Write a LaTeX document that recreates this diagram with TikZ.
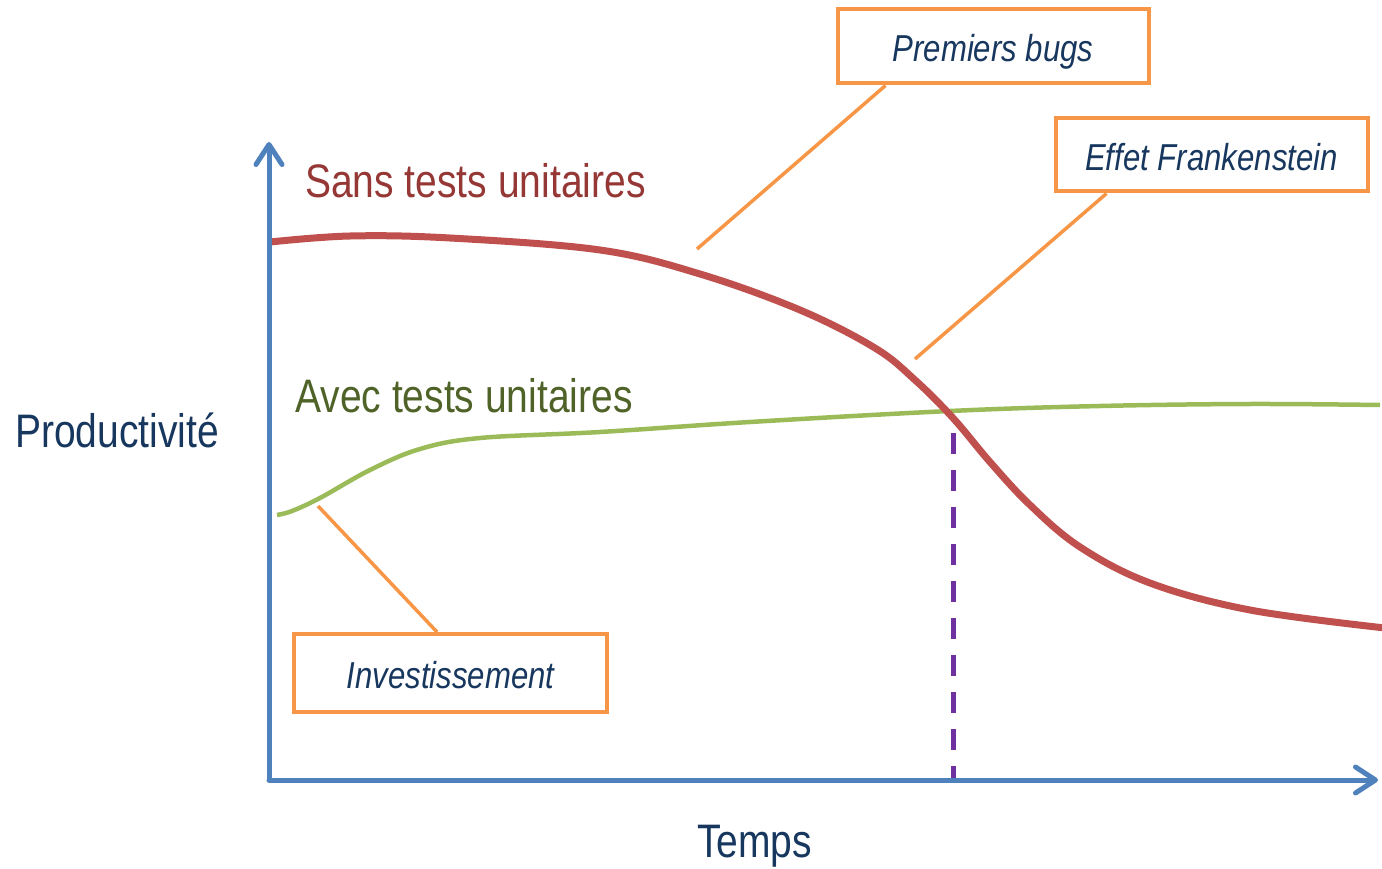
\documentclass[tikz,border=0pt]{standalone}
\usepackage{fontspec}
\setmainfont[FakeStretch=0.83]{Liberation Sans}
\usetikzlibrary{arrows.meta}
\definecolor{axisblue}{HTML}{4F81BD}
\definecolor{curvered}{HTML}{C0504D}
\definecolor{curvegreen}{HTML}{9BBB59}
\definecolor{calloutorange}{HTML}{F79646}
\definecolor{dashpurple}{HTML}{7030A0}
\definecolor{navytext}{HTML}{17375E}
\definecolor{redtext}{HTML}{953735}
\definecolor{greentext}{HTML}{4F6228}
\tikzset{
  axisline/.style={draw=axisblue, line width=5pt, line cap=round, -{Straight Barb[length=20pt,width=26pt,round]}},
  redcurve/.style={draw=curvered, line width=7pt},
  greencurve/.style={draw=curvegreen, line width=4.5pt},
  callout/.style={draw=calloutorange, line width=4pt, fill=white, text=navytext, font=\fontsize{37.5}{40}\selectfont\itshape, inner sep=0pt, text height=31pt, text depth=0pt},
  pointer/.style={draw=calloutorange, line width=3.5pt},
  dashline/.style={draw=dashpurple, line width=5pt, dash pattern=on 21pt off 16pt},
  bigtext/.style={font=\fontsize{47}{50}\selectfont, inner sep=0pt}
}
\begin{document}
\begin{tikzpicture}[x=1pt,y=-1pt]
\useasboundingbox (0,0) rectangle (1382,869);
% axes
\coordinate (origin) at (269,780);
\coordinate (ytop) at (269,142);
\coordinate (xend) at (1378,780);
% dashed line
\coordinate (dtop) at (953,433);
\coordinate (dbot) at (953,780);
\draw[dashline] (dtop) -- (dbot);
% curves
\draw[greencurve] plot[smooth, tension=0.6] coordinates {(277,515) (292,511) (320,498) (370,470) (420,449) (480,438) (600,432) (750,422) (950,411) (1100,406) (1250,404) (1380,405)};
\draw[redcurve] plot[smooth, tension=0.6] coordinates {(270,242) (350,236) (450,238) (600,250) (700,274) (800,310) (875,348) (915,380) (953,418) (990,462) (1030,505) (1080,547) (1150,583) (1250,610) (1385,628)};
\draw[axisline] (origin) -- (ytop);
\draw[axisline] (origin) -- (xend);
% labels
\node[bigtext, text=redtext, anchor=base west] (sans) at (305,198) {Sans tests unitaires};
\node[bigtext, text=greentext, anchor=base west] (avec) at (295,412) {Avec tests unitaires};
\node[bigtext, text=navytext, anchor=base west] (prod) at (15,447) {Productivité};
\node[bigtext, text=navytext, anchor=base] (temps) at (754.5,857) {Temps};
% callouts
\node[callout, minimum width=311pt, minimum height=74pt] (bugs) at (993,46.5) {Premiers bugs};
\node[callout, minimum width=312pt, minimum height=73pt] (frank) at (1211.5,155) {Effet Frankenstein};
\node[callout, minimum width=313pt, minimum height=78pt] (invest) at (450.5,673) {Investissement};
\coordinate (pbugs) at (697,249);
\coordinate (pfrank) at (915,359);
\coordinate (pinvest) at (318,506);
\draw[pointer] (bugs.south west) ++(50,0) coordinate (sb) (sb) -- (pbugs);
\draw[pointer] (frank.south west) ++(53,0) coordinate (sf) (sf) -- (pfrank);
\draw[pointer] (invest.north west) ++(145,0) coordinate (si) (si) -- (pinvest);
\end{tikzpicture}
\end{document}
